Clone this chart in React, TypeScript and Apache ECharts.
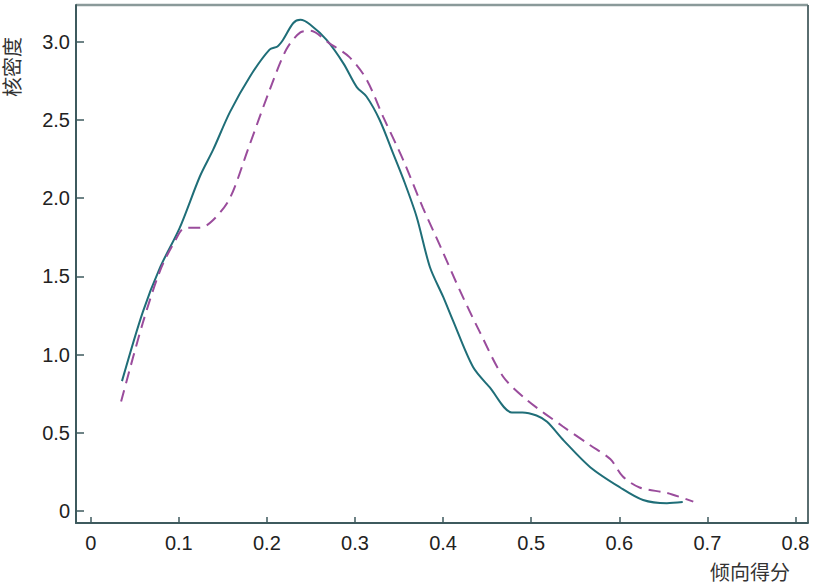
import React, { useEffect, useRef } from "react";
import * as echarts from "echarts";

const xTicks = [0, 0.1, 0.2, 0.3, 0.4, 0.5, 0.6, 0.7, 0.8];
const yTicks = [0, 0.5, 1.0, 1.5, 2.0, 2.5, 3.0];

const solidX = [0.0355, 0.059, 0.079, 0.101, 0.124, 0.139, 0.158, 0.181, 0.203, 0.212, 0.218, 0.230, 0.238, 0.249, 0.268, 0.287, 0.302, 0.313, 0.328, 0.343, 0.355, 0.370, 0.385, 0.400, 0.411, 0.434, 0.453, 0.478, 0.490, 0.506, 0.518, 0.537, 0.567, 0.601, 0.627, 0.654, 0.672];
const solidY = [0.83, 1.27, 1.56, 1.81, 2.14, 2.31, 2.55, 2.78, 2.95, 2.97, 3.01, 3.12, 3.14, 3.11, 3.01, 2.86, 2.71, 2.65, 2.50, 2.29, 2.12, 1.88, 1.56, 1.37, 1.22, 0.92, 0.79, 0.63, 0.63, 0.61, 0.57, 0.45, 0.28, 0.15, 0.07, 0.05, 0.057];

const dashX = [0.0345, 0.059, 0.079, 0.096, 0.107, 0.124, 0.139, 0.158, 0.179, 0.203, 0.222, 0.238, 0.249, 0.271, 0.294, 0.313, 0.332, 0.355, 0.377, 0.397, 0.419, 0.442, 0.468, 0.495, 0.536, 0.567, 0.590, 0.604, 0.623, 0.654, 0.684];
const dashY = [0.70, 1.20, 1.54, 1.73, 1.81, 1.81, 1.86, 2.0, 2.32, 2.69, 2.95, 3.06, 3.07, 2.99, 2.90, 2.76, 2.52, 2.24, 1.94, 1.69, 1.41, 1.14, 0.86, 0.71, 0.54, 0.42, 0.33, 0.22, 0.15, 0.115, 0.06];

const xName = "倾向得分";
const yName = "核密度";

export default function App() {
  const ref = useRef<HTMLDivElement>(null);
  useEffect(() => {
    if (!ref.current) return;
    const chart = echarts.init(ref.current, null, { renderer: "svg" });
    const font = "'Liberation Sans', Arial, sans-serif";
    const axisColor = "#3e5a5e";
    chart.setOption({
      animation: false,
      backgroundColor: "#ffffff",
      grid: { left: 76, right: 9, top: 5, bottom: 62 },
      xAxis: {
        type: "value",
        min: -0.0167,
        max: 0.8142,
        axisLine: { show: true, onZero: false, lineStyle: { color: axisColor, width: 2 } },
        axisTick: { show: true, inside: true, length: 6, customValues: xTicks, lineStyle: { color: axisColor, width: 1.5 } },
        axisLabel: { color: "#222", fontSize: 20, fontFamily: font, margin: 10, customValues: xTicks, formatter: (v: number) => (v === 0 ? "0" : String(Math.round(v * 10) / 10)) },
        splitLine: { show: false },
      },
      yAxis: {
        type: "value",
        min: -0.077,
        max: 3.235,
        axisLine: { show: true, onZero: false, lineStyle: { color: axisColor, width: 2 } },
        axisTick: { show: true, inside: true, length: 8, customValues: yTicks, lineStyle: { color: axisColor, width: 1.5 } },
        axisLabel: { color: "#222", fontSize: 20, fontFamily: font, margin: 6, customValues: yTicks, formatter: (v: number) => (v === 0 ? "0" : v.toFixed(1)) },
        splitLine: { show: false },
      },
      graphic: [
        { type: "line", shape: { x1: 76, y1: 5, x2: 808, y2: 5 }, style: { stroke: "#8a9a9a", lineWidth: 2.5 } },
        { type: "line", shape: { x1: 808, y1: 5, x2: 808, y2: 523 }, style: { stroke: "#5a6e70", lineWidth: 2 } },
        { type: "text", x: 750, y: 571, style: { text: xName, fill: "#333", font: `20px 'Noto Sans CJK SC', sans-serif`, textAlign: "center", textVerticalAlign: "middle" } },
        { type: "text", x: 11, y: 67, rotation: Math.PI / 2, originX: 0, originY: 0, style: { text: yName, fill: "#333", font: `20px 'Noto Sans CJK SC', sans-serif`, textAlign: "center", textVerticalAlign: "middle" } },
      ],
      series: [
        {
          type: "line",
          data: solidX.map((x, i) => [x, solidY[i]]),
          showSymbol: false,
          smooth: 0.3,
          clip: false,
          lineStyle: { color: "#1f6e78", width: 2 },
        },
        {
          type: "line",
          data: dashX.map((x, i) => [x, dashY[i]]),
          showSymbol: false,
          smooth: 0.3,
          clip: false,
          lineStyle: { color: "#9a4c9c", width: 2, type: [12, 7] },
        },
      ],
    });
    return () => chart.dispose();
  }, []);
  return <div ref={ref} style={{ width: 817, height: 585, position: "absolute", left: 0, top: 0 }} />;
}
